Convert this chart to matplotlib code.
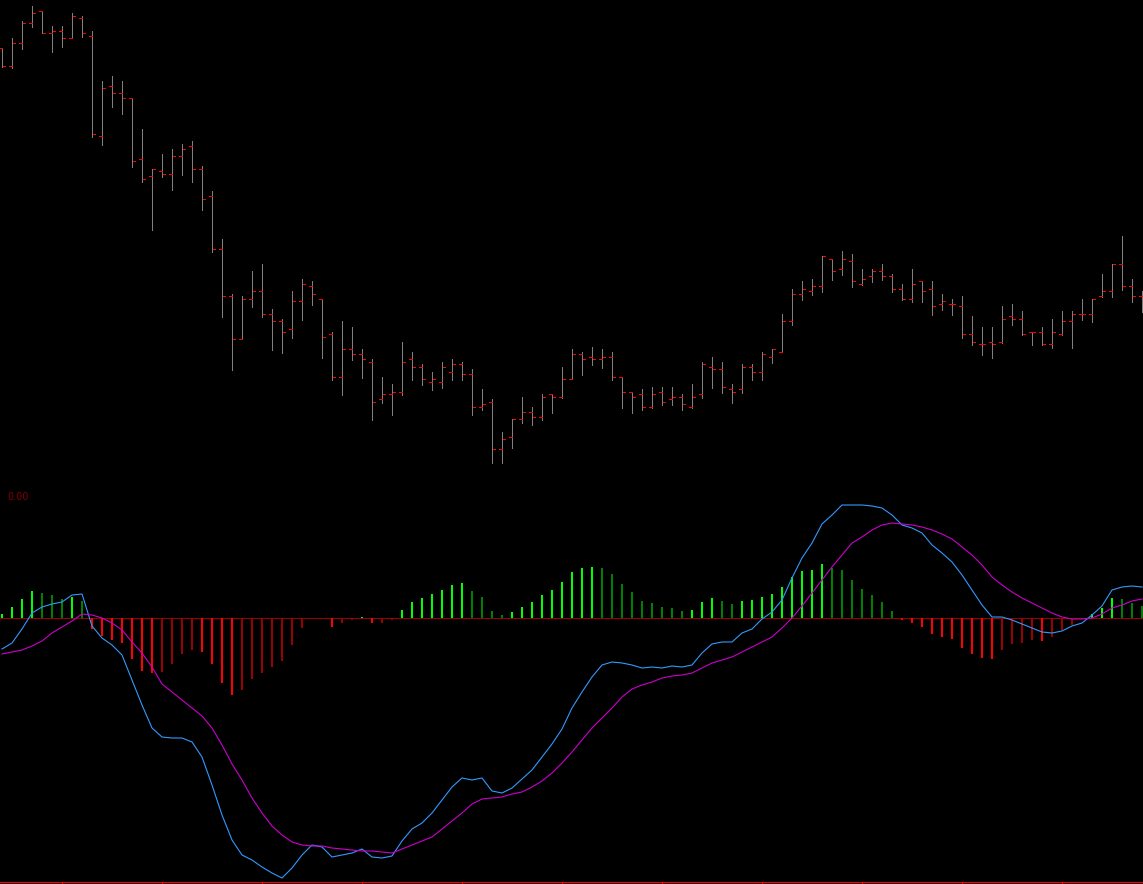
import numpy as np
import matplotlib
matplotlib.use('Agg')
import matplotlib.pyplot as plt

# price bars (chart units)
high = [
    452, 462, 479, 494, 489, 474, 474, 487, 484, 469,
    419, 424, 419, 402, 371, 331, 346, 351, 356, 359,
    334, 309, 261, 206, 204, 229, 236, 191, 181, 209,
    221, 219, 201, 168, 179, 173, 151, 141, 123, 116,
    158, 148, 136, 128, 138, 141, 138, 131, 111, 101,
    68, 81, 103, 93, 106, 106, 133, 151, 148, 153,
    151, 148, 123, 108, 111, 113, 113, 113, 106, 116,
    138, 143, 138, 116, 136, 136, 148, 151, 186, 211,
    219, 221, 244, 241, 249, 246, 231, 231, 236, 226,
    216, 231, 219, 219, 206, 201, 204, 184, 173, 173,
    194, 196, 189, 168, 173, 181, 189, 189, 201, 201,
    226, 236, 264, 221, 209]
low = [
    433, 432, 451, 473, 467, 448, 453, 462, 463, 363,
    355, 393, 386, 333, 318, 270, 323, 310, 325, 318,
    290, 248, 183, 130, 161, 193, 183, 150, 147, 162,
    180, 195, 142, 120, 105, 140, 122, 80, 97, 85,
    105, 120, 115, 110, 112, 120, 120, 85, 90, 37,
    37, 52, 77, 75, 80, 87, 102, 121, 125, 135,
    132, 120, 92, 87, 90, 92, 95, 95, 90, 92,
    102, 112, 107, 97, 107, 120, 120, 137, 148, 175,
    200, 205, 208, 220, 225, 213, 215, 218, 220, 208,
    200, 198, 198, 185, 190, 185, 162, 155, 145, 142,
    157, 175, 165, 155, 155, 152, 165, 152, 180, 178,
    203, 203, 210, 198, 188]
opens = [
    452, 434, 457, 477, 489, 467, 469, 462, 482, 464,
    364, 414, 407, 402, 341, 324, 329, 326, 344, 354,
    331, 304, 251, 204, 161, 201, 209, 186, 179, 171,
    199, 214, 201, 166, 123, 151, 146, 138, 101, 106,
    108, 141, 133, 118, 118, 128, 136, 126, 93, 98,
    51, 63, 81, 88, 83, 106, 103, 121, 146, 143,
    141, 143, 123, 108, 106, 93, 108, 101, 103, 93,
    106, 133, 131, 111, 111, 133, 128, 143, 148, 179,
    206, 209, 214, 241, 231, 239, 216, 224, 229, 224,
    211, 201, 219, 211, 196, 196, 194, 166, 156, 158,
    158, 184, 181, 168, 168, 156, 166, 179, 186, 186,
    204, 209, 236, 214, 204]
close = [
    434, 457, 477, 487, 467, 469, 462, 484, 467, 366,
    412, 407, 402, 339, 321, 331, 326, 344, 351, 331,
    301, 251, 204, 161, 201, 209, 186, 179, 168, 199,
    216, 206, 163, 123, 151, 146, 141, 98, 106, 108,
    138, 133, 121, 121, 133, 136, 126, 93, 96, 51,
    61, 81, 88, 83, 103, 103, 121, 146, 141, 141,
    143, 123, 108, 103, 93, 106, 98, 103, 96, 103,
    136, 131, 113, 108, 133, 128, 146, 151, 179, 206,
    211, 214, 244, 229, 241, 219, 221, 229, 224, 211,
    201, 216, 209, 194, 199, 196, 166, 158, 156, 156,
    181, 181, 166, 168, 156, 168, 179, 186, 186, 201,
    209, 236, 214, 204, 200]

# MACD panel
macd = [
    -31, -25, -11, 5, 11, 14, 16, 23, 24, -8,
    -20, -27, -37, -62, -87, -110, -119, -120, -120, -124,
    -139, -167, -197, -222, -237, -242, -249, -255, -260, -250,
    -237, -227, -229, -239, -237, -235, -231, -239, -240, -238,
    -223, -211, -205, -195, -182, -169, -160, -162, -160, -173,
    -175, -170, -161, -152, -139, -126, -111, -90, -74, -59,
    -47, -44, -45, -47, -50, -49, -50, -48, -49, -47,
    -35, -26, -24, -24, -15, -11, -1, 6, 18, 40,
    60, 75, 94, 103, 113, 113, 113, 112, 110, 103,
    93, 90, 85, 73, 65, 56, 43, 28, 13, 1,
    1, -2, -6, -10, -14, -15, -13, -8, -5, 3,
    12, 28, 31, 32, 31]
signal = [
    -36, -34, -32, -28, -23, -15, -9, -3, 4, 3,
    0, -5, -12, -24, -35, -49, -66, -74, -82, -90,
    -98, -110, -127, -146, -162, -180, -195, -208, -217, -224,
    -227, -228, -228, -230, -231, -232, -233, -233, -234, -235,
    -231, -227, -223, -219, -211, -203, -195, -186, -181, -180,
    -179, -176, -174, -169, -163, -155, -145, -134, -122, -110,
    -100, -90, -79, -71, -67, -64, -60, -58, -57, -55,
    -50, -45, -42, -39, -34, -29, -24, -19, -10, 0,
    12, 25, 38, 51, 63, 75, 81, 88, 93, 95,
    94, 93, 91, 88, 84, 79, 71, 63, 53, 41,
    33, 26, 20, 15, 10, 5, 1, -1, -1, 0,
    4, 10, 13, 17, 19]
hist = [
    4, 11, 19, 27, 25, 23, 19, 21, 17, -11,
    -18, -22, -25, -41, -53, -55, -54, -46, -36, -32,
    -34, -46, -65, -77, -72, -61, -55, -49, -43, -27,
    -10, 0.5, -0.4, -9, -5, -2, 1, -5, -4.6, -2,
    8, 16, 20, 24, 28, 33, 35, 27, 21, 7,
    3, 6, 11, 16, 23, 28, 36, 46, 50, 51,
    50.5, 44, 34, 26, 17, 15, 11, 10, 7, 8,
    16, 20, 17, 14, 17, 18, 21, 24, 31, 41,
    47, 48, 54, 50, 48, 38, 29, 23, 16, 7,
    -2, -5, -9, -16, -19, -21, -30, -36, -40, -40.5,
    -32, -26, -25, -22, -23, -19, -12, -7, -1, 4,
    10, 20, 19, 15, 12]

n = len(high)
x = np.arange(n)

fig = plt.figure(figsize=(11.43, 8.84), dpi=100, facecolor='black')

# bar chart on top
ax1 = fig.add_axes([0, 414 / 884, 1, 470 / 884], facecolor='black')
ax1.vlines(x, low, high, color='#808080', lw=0.5, antialiased=False)
ax1.hlines(opens, x - 0.3, x - 0.05, color='#ff0000', lw=0.5, antialiased=False)
ax1.hlines(close, x + 0.05, x + 0.3, color='#ff0000', lw=0.5, antialiased=False)
ax1.set_xlim(-0.2, 114.1)
ax1.set_ylim(30, 500)
ax1.axis('off')

# macd below
colors = []
for i, v in enumerate(hist):
    prev = hist[i - 1] if i > 0 else 0
    if v >= 0:
        colors.append('#00ff00' if v > prev else '#008000')
    else:
        colors.append('#ff0000' if v < prev else '#990000')

ax2 = fig.add_axes([0, 2.5 / 884, 1, 401.5 / 884], facecolor='black')
ax2.axhline(0, color='#990000', lw=0.75, zorder=1)
ax2.bar(x, hist, width=0.2, color=colors, linewidth=0, zorder=2, antialiased=False)
ax2.plot(x, macd, color='#3399ff', lw=0.8, zorder=3)
ax2.plot(x, signal, color='#cc00cc', lw=0.8, zorder=3)
ax2.set_xlim(-0.2, 114.1)
ax2.set_ylim(-263.5, 138)
for s in ['top', 'left', 'right']:
    ax2.spines[s].set_visible(False)
ax2.spines['bottom'].set_color('#ff0000')
ax2.spines['bottom'].set_linewidth(0.8)
ax2.set_xticks(np.arange(6, n, 10))
ax2.tick_params(axis='x', colors='#ff0000', direction='out', length=3, width=0.8, labelbottom=False)
ax2.set_yticks([])

fig.text(7 / 1143, 1 - 497 / 884, '0.00', color='#800000', fontsize=7, va='center', ha='left')

fig.savefig('out.png', dpi=100, facecolor='black')
